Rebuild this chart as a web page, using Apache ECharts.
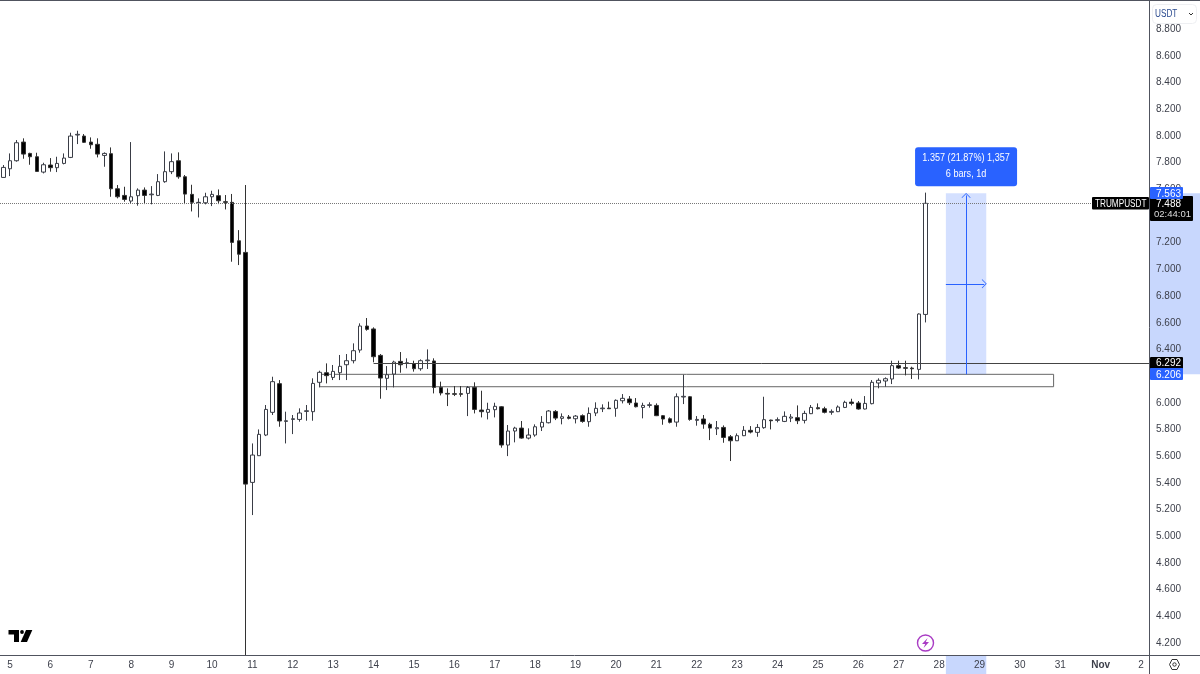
<!DOCTYPE html>
<html style="height: 100%;">
<head>
    <meta charset="utf-8">
    <style type="text/css">
        body { margin: 0; background: #fff; }
        #container { width: 1200px; height: 674px; }
    </style>
</head>
<body>
<div id="container"></div>
<script type="text/javascript" src="https://cdn.jsdelivr.net/npm/echarts@6/dist/echarts.min.js"></script>
<script type="text/javascript">
// 4h candles, TRUMPUSDT
var opens = [7.682,7.747,7.807,7.947,7.862,7.837,7.722,7.775,7.755,7.787,7.832,8.000,7.992,7.947,7.930,7.847,7.860,7.597,7.547,7.505,7.545,7.587,7.552,7.547,7.650,7.725,7.807,7.687,7.555,7.492,7.492,7.537,7.545,7.500,7.495,7.207,7.120,5.396,5.596,5.751,5.921,6.136,5.853,5.868,5.868,5.928,5.926,6.146,6.218,6.183,6.218,6.278,6.308,6.388,6.568,6.546,6.348,6.176,6.208,6.303,6.288,6.286,6.248,6.308,6.306,6.108,6.063,6.061,6.061,6.063,6.108,5.938,5.921,5.941,5.963,5.676,5.781,5.803,5.728,5.751,5.811,5.843,5.928,5.876,5.886,5.873,5.896,5.851,5.916,5.948,5.953,5.951,6.008,6.021,5.991,5.958,5.973,5.973,5.896,5.873,5.848,6.036,6.038,5.861,5.871,5.831,5.798,5.808,5.738,5.708,5.746,5.786,5.771,5.806,5.863,5.861,5.853,5.878,5.881,5.861,5.911,5.956,5.948,5.921,5.926,5.958,5.998,5.991,5.946,5.986,6.141,6.156,6.171,6.271,6.256,6.253,6.243,6.655];
var highs = [7.775,7.862,7.962,7.975,7.867,7.867,7.792,7.827,7.837,7.862,8.017,8.032,8.007,7.982,7.975,7.870,7.907,7.625,7.612,7.947,7.600,7.607,7.617,7.707,7.877,7.862,7.870,7.700,7.627,7.525,7.567,7.582,7.592,7.550,7.558,7.287,7.625,5.688,5.793,5.976,6.188,6.163,5.926,5.901,5.951,5.976,6.176,6.233,6.288,6.276,6.351,6.358,6.438,6.588,6.628,6.558,6.358,6.268,6.308,6.373,6.326,6.308,6.318,6.393,6.326,6.151,6.101,6.118,6.118,6.118,6.146,6.083,5.993,5.993,5.968,5.826,5.813,5.856,5.801,5.831,5.893,5.938,5.938,5.913,5.901,5.901,5.906,5.958,5.996,5.981,6.001,6.018,6.058,6.043,6.028,5.993,5.996,5.988,5.901,5.883,6.063,6.203,6.043,5.893,5.901,5.843,5.856,5.823,5.751,5.763,5.818,5.818,5.833,6.038,5.866,5.883,5.928,5.908,5.973,5.933,5.976,5.988,5.963,5.943,5.973,6.008,6.023,6.006,6.043,6.163,6.176,6.183,6.308,6.308,6.308,6.263,6.663,7.568];
var lows = [7.680,7.692,7.800,7.822,7.777,7.725,7.712,7.725,7.722,7.780,7.827,7.932,7.940,7.897,7.832,7.762,7.537,7.525,7.500,7.487,7.470,7.482,7.480,7.542,7.642,7.707,7.672,7.482,7.427,7.382,7.480,7.467,7.482,7.442,7.050,7.025,4.102,5.151,5.594,5.743,5.901,5.813,5.688,5.758,5.851,5.858,5.858,6.108,6.138,6.163,6.163,6.163,6.288,6.368,6.533,6.296,6.023,6.088,6.108,6.218,6.251,6.226,6.233,6.246,6.063,6.048,5.968,6.043,6.038,5.893,5.913,5.883,5.868,5.883,5.656,5.593,5.696,5.723,5.718,5.738,5.781,5.838,5.863,5.831,5.868,5.838,5.843,5.813,5.893,5.923,5.946,5.888,5.988,5.976,5.958,5.876,5.956,5.893,5.828,5.838,5.813,5.983,5.858,5.821,5.798,5.713,5.751,5.693,5.556,5.706,5.743,5.763,5.738,5.798,5.793,5.846,5.848,5.848,5.833,5.838,5.908,5.943,5.913,5.903,5.923,5.953,5.973,5.941,5.943,5.981,6.101,6.113,6.133,6.246,6.198,6.171,6.168,6.595];
var closes = [7.757,7.807,7.942,7.857,7.837,7.727,7.777,7.755,7.787,7.827,7.992,8.005,7.945,7.927,7.857,7.862,7.597,7.537,7.517,7.537,7.587,7.547,7.557,7.650,7.725,7.800,7.687,7.557,7.495,7.495,7.537,7.555,7.507,7.495,7.195,7.106,5.383,5.601,5.756,5.943,6.151,5.856,5.858,5.873,5.916,5.933,6.138,6.221,6.196,6.228,6.266,6.308,6.383,6.568,6.543,6.338,6.178,6.203,6.298,6.278,6.293,6.248,6.308,6.313,6.108,6.066,6.058,6.056,6.056,6.108,5.943,5.926,5.943,5.966,5.676,5.781,5.803,5.728,5.751,5.813,5.846,5.931,5.878,5.888,5.876,5.893,5.853,5.913,5.951,5.953,5.948,6.011,6.026,5.993,5.963,5.973,5.978,5.896,5.871,5.846,6.038,6.041,5.868,5.868,5.833,5.803,5.806,5.733,5.708,5.746,5.786,5.773,5.808,5.866,5.858,5.866,5.891,5.886,5.858,5.913,5.958,5.948,5.921,5.928,5.961,5.996,5.988,5.946,5.988,6.146,6.161,6.173,6.271,6.253,6.251,6.248,6.658,7.488];

var priceTicks = [4.2,4.4,4.6,4.8,5.0,5.2,5.4,5.6,5.8,6.0,6.2,6.4,6.6,6.8,7.0,7.2,7.4,7.6,7.8,8.0,8.2,8.4,8.6,8.8];
var dayTickBars = [1,7,13,19,25,31,37,43,49,55,61,67,73,79,85,91,97,103,109,115,121,127,133,139,145,151,157,163,169];
var dayLabels = ['5','6','7','8','9','10','11','12','13','14','15','16','17','18','19','20','21','22','23','24','25','26','27','28','29','30','31','Nov','2'];

// drawings on the chart, in bars and prices
var lastPrice = 7.488;
var supportLine = 6.292;
var supportStartBar = 55;
var zoneTop = 6.206;
var zoneBottom = 6.113;
var zoneStartBar = 47;
var zoneEndBar = 156;
var rangeStartBar = 140;
var rangeEndBar = 146;
var rangeMidBar = 143;
var rangeTop = 7.563;
var rangeBottom = 6.206;

var xMin = -0.486;
var xMax = 170.17;
var yMin = 4.102;
var yMax = 9.012;
var axisColor = '#50535e';
var textColor = '#3c3f4a';
var fontName = '"Liberation Sans", Arial, sans-serif';
var chevron = 'path://M0,0 L10,9 L9,10 L0,2 L-9,10 L-10,9 Z';

var candles = opens.map(function (o, i) {
    return [i, o, closes[i], lows[i], highs[i]];
});

var dom = document.getElementById('container');
var myChart = echarts.init(dom);

myChart.setOption({
    animation: false,
    grid: { left: 0, right: 51, top: 0, bottom: 19 },
    xAxis: {
        type: 'value',
        min: xMin,
        max: xMax,
        z: 3,
        splitLine: { show: false },
        axisTick: { show: false },
        axisLine: { show: true, onZero: false, lineStyle: { color: axisColor } },
        axisLabel: {
            customValues: dayTickBars,
            margin: 5,
            fontSize: 10,
            fontFamily: fontName,
            color: textColor,
            formatter: function (value) {
                var label = dayLabels[dayTickBars.indexOf(value)];
                return label === 'Nov' ? '{b|Nov}' : label;
            },
            rich: { b: { fontWeight: 'bold', fontSize: 10, fontFamily: fontName, color: textColor } }
        }
    },
    yAxis: {
        type: 'value',
        position: 'right',
        min: yMin,
        max: yMax,
        z: 3,
        splitLine: { show: false },
        axisTick: { show: false },
        axisLine: { show: true, onZero: false, lineStyle: { color: axisColor } },
        axisLabel: {
            customValues: priceTicks,
            margin: 7,
            fontSize: 10,
            fontFamily: fontName,
            color: textColor,
            formatter: function (value) { return '{p|' + value.toFixed(3) + '}'; },
            rich: { p: { fontSize: 10, fontFamily: fontName, color: textColor, padding: [2, 0, 0, 0] } }
        }
    },
    series: [{
        type: 'candlestick',
        data: candles,
        encode: { x: 0, y: [1, 2, 3, 4] },
        barWidth: 4,
        itemStyle: {
            color: '#fff',
            color0: '#000',
            borderColor: '#3a3d46',
            borderColor0: '#333',
            borderWidth: 1
        },
        markLine: {
            silent: true,
            symbol: 'none',
            label: { show: false },
            animation: false,
            data: [
                [
                    { coord: [xMin, lastPrice], lineStyle: { color: '#777', type: 'dotted', width: 1 } },
                    { coord: [xMax, lastPrice] }
                ],
                [
                    { coord: [supportStartBar, supportLine], lineStyle: { color: '#444', type: 'solid', width: 1 } },
                    { coord: [xMax, supportLine] }
                ],
                [
                    { coord: [rangeMidBar, rangeBottom], symbol: 'none', lineStyle: { color: '#2962ff', type: 'solid', width: 1 } },
                    { coord: [rangeMidBar, rangeTop - 0.016], symbol: chevron, symbolSize: [9, 5] }
                ],
                [
                    { coord: [rangeStartBar, (rangeTop + rangeBottom) / 2], symbol: 'none', lineStyle: { color: '#2962ff', type: 'solid', width: 1 } },
                    { coord: [rangeEndBar - 0.3, (rangeTop + rangeBottom) / 2], symbol: chevron, symbolSize: [9, 5] }
                ]
            ]
        },
        markArea: {
            silent: true,
            label: { show: false },
            data: [
                [
                    { coord: [zoneStartBar, zoneTop], itemStyle: { color: 'rgba(0,0,0,0)', borderColor: '#666', borderWidth: 1 } },
                    { coord: [zoneEndBar, zoneBottom] }
                ],
                [
                    { coord: [rangeStartBar, rangeTop], itemStyle: { color: 'rgba(41,98,255,0.2)', borderWidth: 0 } },
                    { coord: [rangeEndBar, rangeBottom] }
                ]
            ]
        }
    }]
});

// price tags, highlights and chart furniture sit on top of the axes
function yOf(price) {
    return myChart.convertToPixel({ yAxisIndex: 0 }, price);
}
function xOf(bar) {
    return myChart.convertToPixel({ xAxisIndex: 0 }, bar);
}
function tag(x, midY, w, h, fill, text, textFill) {
    return [
        { type: 'rect', z: 10, silent: true, shape: { x: x, y: Math.round(midY - h / 2), width: w, height: h, r: 1 }, style: { fill: fill } },
        { type: 'text', z: 11, silent: true, x: x + 6, y: midY + 0.5, style: { text: text, fill: textFill, font: '10px ' + fontName, textVerticalAlign: 'middle' } }
    ];
}
var axisX = 1149;
var axisY = 655;
var rangeY0 = yOf(rangeTop);
var rangeY1 = yOf(rangeBottom);
var rangeX0 = xOf(rangeStartBar);
var rangeX1 = xOf(rangeEndBar);
var rangeXm = xOf(rangeMidBar);
var priceY = yOf(lastPrice);
var elements = [
    // highlights on both scales
    { type: 'rect', z: 1, silent: true, shape: { x: axisX + 0.5, y: rangeY0, width: 51, height: rangeY1 - rangeY0 }, style: { fill: '#c8d7fd' } },
    { type: 'rect', z: 1, silent: true, shape: { x: rangeX0, y: axisY + 0.5, width: rangeX1 - rangeX0, height: 19 }, style: { fill: '#c8d7fd' } },
    // frame
    { type: 'line', z: 5, silent: true, shape: { x1: 0, y1: 0.5, x2: 1200, y2: 0.5 }, style: { stroke: axisColor, lineWidth: 1 } },
    { type: 'line', z: 5, silent: true, shape: { x1: axisX, y1: axisY + 0.5, x2: 1200, y2: axisY + 0.5 }, style: { stroke: axisColor, lineWidth: 1 } },
    { type: 'line', z: 5, silent: true, shape: { x1: axisX + 0.5, y1: axisY, x2: axisX + 0.5, y2: 674 }, style: { stroke: axisColor, lineWidth: 1 } },
    // measure label
    { type: 'rect', z: 10, silent: true, shape: { x: rangeXm - 51, y: rangeY0 - 46, width: 102, height: 39, r: 3 }, style: { fill: '#2962ff' } },
    { type: 'text', z: 11, silent: true, x: rangeXm, y: rangeY0 - 35, scaleX: 0.91, style: { text: '1.357 (21.87%) 1,357', fill: '#fff', font: '10px ' + fontName, textAlign: 'center', textVerticalAlign: 'middle' } },
    { type: 'text', z: 11, silent: true, x: rangeXm, y: rangeY0 - 19, scaleX: 0.91, style: { text: '6 bars, 1d', fill: '#fff', font: '10px ' + fontName, textAlign: 'center', textVerticalAlign: 'middle' } },
    // USDT selector
    { type: 'rect', z: 8, silent: true, shape: { x: 1152.5, y: 4.5, width: 44, height: 19, r: 4 }, style: { fill: '#fff', stroke: '#eeeff2', lineWidth: 1 } },
    { type: 'text', z: 9, silent: true, x: 1155, y: 14, scaleX: 0.82, style: { text: 'USDT', fill: '#2a4a8f', font: '10px ' + fontName, textVerticalAlign: 'middle' } },
    { type: 'polyline', z: 9, silent: true, shape: { points: [[1189, 13], [1191, 15], [1193, 13]] }, style: { stroke: '#333', lineWidth: 1, fill: 'none' } },
    // symbol and countdown tags
    { type: 'rect', z: 10, silent: true, shape: { x: 1092, y: Math.round(priceY) - 6, width: 57, height: 12.5, r: 1 }, style: { fill: '#000' } },
    { type: 'text', z: 11, silent: true, x: 1095, y: priceY + 0.5, scaleX: 0.82, style: { text: 'TRUMPUSDT', fill: '#fff', font: '10px ' + fontName, textVerticalAlign: 'middle' } },
    { type: 'rect', z: 10, silent: true, shape: { x: axisX + 1, y: Math.round(priceY) - 7, width: 43, height: 25, r: 1 }, style: { fill: '#000' } },
    { type: 'text', z: 11, silent: true, x: axisX + 7, y: priceY + 0.5, style: { text: '7.488', fill: '#fff', font: '10px ' + fontName, textVerticalAlign: 'middle' } },
    { type: 'text', z: 11, silent: true, x: axisX + 5, y: priceY + 11, style: { text: '02:44:01', fill: '#ddd', font: '9.5px ' + fontName, textVerticalAlign: 'middle' } },
    // TradingView mark
    { type: 'polygon', z: 4, silent: true, shape: { points: [[8.5, 630], [19, 630], [19, 642], [14, 642], [14, 634.5], [8.5, 634.5]] }, style: { fill: '#000' } },
    { type: 'circle', z: 4, silent: true, shape: { cx: 22, cy: 632, r: 1.9 }, style: { fill: '#000' } },
    { type: 'polygon', z: 4, silent: true, shape: { points: [[26, 630], [32.3, 630], [27, 642], [20.7, 642]] }, style: { fill: '#000' } },
    // bolt badge
    { type: 'circle', z: 4, silent: true, shape: { cx: 925.5, cy: 643, r: 8 }, style: { fill: '#fff', stroke: '#a93cc4', lineWidth: 1.4 } },
    { type: 'polygon', z: 5, silent: true, shape: { points: [[927.6, 638], [922, 644], [925.2, 644], [923.6, 648], [929, 642], [925.8, 642]] }, style: { fill: '#a93cc4' } },
    // settings icon
    { type: 'polygon', z: 5, silent: true, shape: { points: [[1169.5, 664.5], [1172, 659.5], [1177, 659.5], [1179.5, 664.5], [1177, 669.5], [1172, 669.5]] }, style: { fill: 'none', stroke: '#333', lineWidth: 1 } },
    { type: 'circle', z: 5, silent: true, shape: { cx: 1174.5, cy: 664.5, r: 1.7 }, style: { fill: 'none', stroke: '#333', lineWidth: 1 } }
];
elements = elements.concat(tag(axisX + 1, yOf(rangeTop), 33, 12, '#2962ff', '7.563', '#fff'));
elements = elements.concat(tag(axisX + 1, yOf(supportLine), 33, 12, '#000', '6.292', '#fff'));
elements = elements.concat(tag(axisX + 1, yOf(rangeBottom), 33, 12, '#2962ff', '6.206', '#fff'));
myChart.setOption({ graphic: { elements: elements } });
</script>
</body>
</html>
